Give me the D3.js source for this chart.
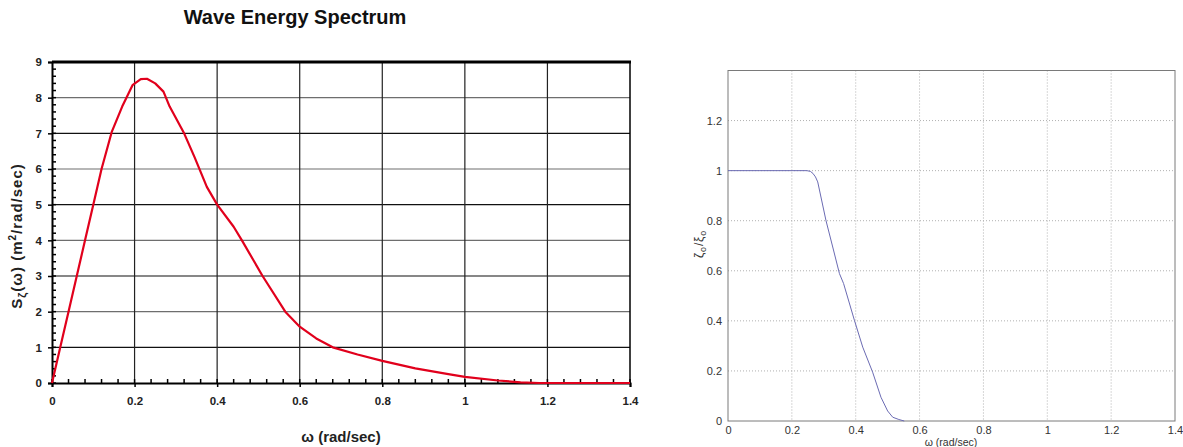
<!DOCTYPE html>
<html>
<head>
<meta charset="utf-8">
<script src="https://cdn.jsdelivr.net/npm/d3@7"></script>
<style>
  body { margin: 0; background: #fff; }
  svg { display: block; font-family: "Liberation Sans", Arial, sans-serif; }
</style>
</head>
<body>
<svg id="chart" width="1183" height="447"></svg>
<script>
// Wave energy spectrum S(ω)
const omega = [0, 0.02, 0.04, 0.06, 0.08, 0.10, 0.12, 0.145, 0.17, 0.195, 0.215, 0.23, 0.25, 0.27, 0.285,
  0.32, 0.345, 0.375, 0.40, 0.44, 0.46, 0.51, 0.565, 0.60, 0.64, 0.68, 0.74, 0.80, 0.88, 0.96, 1.00,
  1.08, 1.135, 1.18, 1.2, 1.4];
const spectrum = [0, 1.0, 2.0, 3.0, 4.0, 5.0, 6.0, 7.05, 7.75, 8.35, 8.52, 8.53, 8.4, 8.17, 7.75,
  7.0, 6.34, 5.5, 5.0, 4.38, 4.0, 3.0, 2.0, 1.58, 1.25, 1.0, 0.8, 0.62, 0.41, 0.25, 0.17,
  0.07, 0.02, 0, 0, 0];
const xTickValues = [0, 0.2, 0.4, 0.6, 0.8, 1, 1.2, 1.4];
const spectrumTicks = [0, 1, 2, 3, 4, 5, 6, 7, 8, 9];

// Amplitude ratio curve
const omegaRatio = [0, 0.1, 0.2, 0.247, 0.258, 0.266, 0.274, 0.281, 0.307, 0.328, 0.349, 0.362, 0.396, 0.422,
  0.453, 0.479, 0.50, 0.516, 0.535, 0.552];
const ratio = [1, 1, 1, 1, 0.997, 0.989, 0.975, 0.955, 0.80, 0.695, 0.589, 0.549, 0.402, 0.295,
  0.195, 0.095, 0.04, 0.015, 0.006, 0];
const ratioTicks = [0, 0.2, 0.4, 0.6, 0.8, 1, 1.2];

const svg = d3.select("#chart");

// ---------- left panel ----------
const L = { left: 52, right: 630, top: 62, bottom: 383 };
const xL = d3.scaleLinear().domain([0, 1.4]).range([L.left, L.right]);
const yL = d3.scaleLinear().domain([0, 9]).range([L.bottom, L.top]);
const gL = svg.append("g");

gL.append("text")
  .attr("x", 295).attr("y", 24)
  .attr("text-anchor", "middle")
  .attr("font-size", 20).attr("font-weight", "bold")
  .attr("fill", "#111")
  .text("Wave Energy Spectrum");

// horizontal grid lines
gL.selectAll("line.hgrid").data(spectrumTicks.filter(v => v > 0 && v < 9))
  .join("line").attr("class", "hgrid")
  .attr("x1", L.left).attr("x2", L.right)
  .attr("y1", d => yL(d)).attr("y2", d => yL(d))
  .attr("stroke", d => d % 2 === 0 ? "#6e6e6e" : "#111")
  .attr("stroke-width", 1.2);

// vertical grid lines
gL.selectAll("line.vgrid").data(xTickValues.filter(v => v > 0 && v < 1.4))
  .join("line").attr("class", "vgrid")
  .attr("x1", d => xL(d)).attr("x2", d => xL(d))
  .attr("y1", L.top).attr("y2", L.bottom)
  .attr("stroke", "#222").attr("stroke-width", 1.2);

// frame
gL.append("line").attr("x1", L.left).attr("x2", L.right + 1).attr("y1", L.top).attr("y2", L.top)
  .attr("stroke", "#000").attr("stroke-width", 3);
gL.append("line").attr("x1", L.right).attr("x2", L.right).attr("y1", L.top).attr("y2", L.bottom)
  .attr("stroke", "#000").attr("stroke-width", 1.5);

// x axis: major ticks outward, minor ticks inward
const xAxisL = d3.axisBottom(xL).tickValues(xTickValues).tickSize(4).tickPadding(10)
  .tickFormat(d => String(d));
const gxL = gL.append("g").attr("transform", `translate(0,${L.bottom})`).call(xAxisL);
gxL.select(".domain").attr("stroke", "#000").attr("stroke-width", 2);
gxL.selectAll(".tick line").attr("stroke", "#000").attr("stroke-width", 1.5);
gxL.selectAll(".tick text").attr("font-size", 11.5).attr("font-weight", "bold")
  .attr("font-family", "Liberation Sans, Arial, sans-serif").attr("fill", "#222");
gL.selectAll("line.xminor").data(d3.range(0, 36).map(i => i * 0.04))
  .join("line").attr("class", "xminor")
  .attr("x1", d => xL(d)).attr("x2", d => xL(d))
  .attr("y1", L.bottom).attr("y2", L.bottom - 4)
  .attr("stroke", "#000").attr("stroke-width", 1.5);

// y axis
const yAxisL = d3.axisLeft(yL).tickValues(spectrumTicks).tickSize(4).tickPadding(6)
  .tickFormat(d => String(d));
const gyL = gL.append("g").attr("transform", `translate(${L.left},0)`).call(yAxisL);
gyL.select(".domain").attr("stroke", "#000").attr("stroke-width", 2);
gyL.selectAll(".tick line").attr("stroke", "#000").attr("stroke-width", 1.5);
gyL.selectAll(".tick text").attr("font-size", 11.5).attr("font-weight", "bold")
  .attr("font-family", "Liberation Sans, Arial, sans-serif").attr("fill", "#222");
gL.selectAll("line.yminor").data(d3.range(0, 46).map(i => i * 0.2))
  .join("line").attr("class", "yminor")
  .attr("x1", L.left).attr("x2", L.left + 4)
  .attr("y1", d => yL(d)).attr("y2", d => yL(d))
  .attr("stroke", "#000").attr("stroke-width", 1.5);

// spectrum curve
gL.append("path")
  .datum(omega.map((w, i) => [w, spectrum[i]]))
  .attr("fill", "none").attr("stroke", "#e1001c").attr("stroke-width", 2.2)
  .attr("stroke-linejoin", "round")
  .attr("d", d3.line().x(d => xL(d[0])).y(d => yL(d[1])));

// axis titles
gL.append("text")
  .attr("x", 341).attr("y", 442)
  .attr("text-anchor", "middle")
  .attr("font-size", 15).attr("font-weight", "bold").attr("fill", "#222")
  .text("ω (rad/sec)");

const yt = gL.append("text")
  .attr("transform", "translate(22,236) rotate(-90)")
  .attr("text-anchor", "middle")
  .attr("font-size", 15).attr("font-weight", "bold").attr("fill", "#222")
  .attr("letter-spacing", 1);
yt.append("tspan").text("S");
yt.append("tspan").attr("dy", 4).attr("font-size", 11).text("ζ");
yt.append("tspan").attr("dy", -4).text("(ω) (m");
yt.append("tspan").attr("dy", -6).attr("font-size", 10).text("2");
yt.append("tspan").attr("dy", 6).text("/rad/sec)");

// ---------- right panel ----------
const R = { left: 728, right: 1175, top: 70.5, bottom: 421 };
const xR = d3.scaleLinear().domain([0, 1.4]).range([R.left, R.right]);
const yR = d3.scaleLinear().domain([0, 1.4]).range([R.bottom, R.top]);
const gR = svg.append("g");

// dotted grid
gR.selectAll("line.vgrid").data(xTickValues.filter(v => v > 0 && v < 1.4))
  .join("line").attr("class", "vgrid")
  .attr("x1", d => xR(d)).attr("x2", d => xR(d))
  .attr("y1", R.top).attr("y2", R.bottom)
  .attr("stroke", "#b0b0b0").attr("stroke-width", 1).attr("stroke-dasharray", "1,2");
gR.selectAll("line.hgrid").data(ratioTicks.filter(v => v > 0))
  .join("line").attr("class", "hgrid")
  .attr("x1", R.left).attr("x2", R.right)
  .attr("y1", d => yR(d)).attr("y2", d => yR(d))
  .attr("stroke", "#b0b0b0").attr("stroke-width", 1).attr("stroke-dasharray", "1,2");

// box
gR.append("rect")
  .attr("x", R.left).attr("y", R.top)
  .attr("width", R.right - R.left).attr("height", R.bottom - R.top)
  .attr("fill", "none").attr("stroke", "#7a7a7a").attr("stroke-width", 1);

// tick labels
const xAxisR = d3.axisBottom(xR).tickValues(xTickValues).tickSize(0).tickPadding(5)
  .tickFormat(d => String(d));
const gxR = gR.append("g").attr("transform", `translate(0,${R.bottom})`).call(xAxisR);
gxR.select(".domain").remove();
gxR.selectAll(".tick text").attr("font-size", 11).attr("fill", "#333")
  .attr("font-family", "Liberation Sans, Arial, sans-serif");

const yAxisR = d3.axisLeft(yR).tickValues(ratioTicks).tickSize(0).tickPadding(6)
  .tickFormat(d => String(d));
const gyR = gR.append("g").attr("transform", `translate(${R.left},0)`).call(yAxisR);
gyR.select(".domain").remove();
gyR.selectAll(".tick text").attr("font-size", 11).attr("fill", "#333")
  .attr("font-family", "Liberation Sans, Arial, sans-serif");

// ratio curve
gR.append("path")
  .datum(omegaRatio.map((w, i) => [w, ratio[i]]))
  .attr("fill", "none").attr("stroke", "#6b6bb3").attr("stroke-width", 1)
  .attr("d", d3.line().x(d => xR(d[0])).y(d => yR(d[1])));

// axis titles
gR.append("text")
  .attr("x", 951).attr("y", 446)
  .attr("text-anchor", "middle")
  .attr("font-size", 10.5).attr("fill", "#333")
  .text("ω (rad/sec)");

const yr = gR.append("text")
  .attr("transform", "translate(703,244) rotate(-90)")
  .attr("text-anchor", "middle")
  .attr("font-size", 12).attr("fill", "#333")
  .attr("letter-spacing", 0.8);
yr.append("tspan").text("ζ");
yr.append("tspan").attr("dy", 3).attr("font-size", 9).text("o");
yr.append("tspan").attr("dy", -3).text("/ξ");
yr.append("tspan").attr("dy", 3).attr("font-size", 9).text("o");
</script>
</body>
</html>
